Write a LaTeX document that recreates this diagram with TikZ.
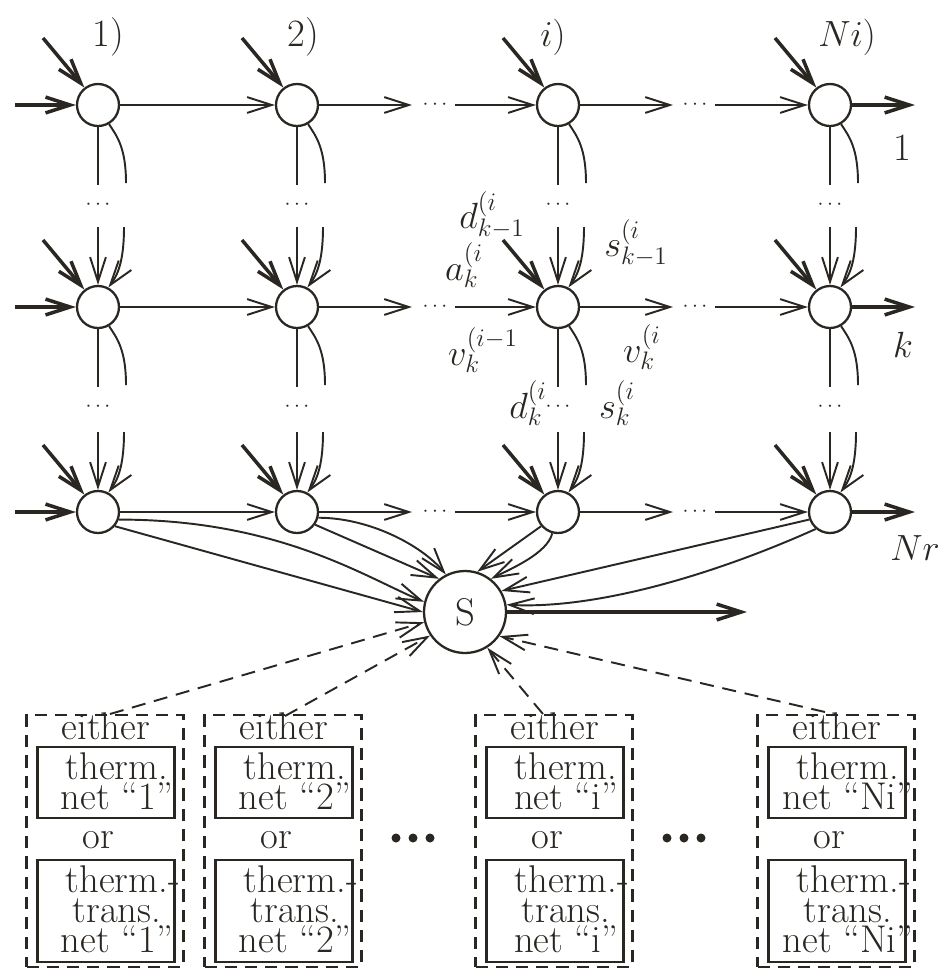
\documentclass[tikz,border=0pt]{standalone}
\usetikzlibrary{arrows.meta}
\definecolor{ink}{RGB}{42,38,34}
\begin{document}
\begin{tikzpicture}[x=0.02cm,y=-0.02cm,
  every node/.style={font=\fontsize{22}{17}\selectfont,text=ink},
  >={Straight Barb[length=14pt,width=9pt]},
  nd/.style={circle,draw=ink,line width=1.3pt,minimum size=0.84cm,inner sep=0pt,fill=white},
  ln/.style={draw=ink,line width=1.1pt},
  thk/.style={draw=ink,line width=2pt},
  dotsl/.style={font=\fontsize{13}{14}\selectfont,inner sep=0pt},
  obox/.style={draw=ink,line width=1.3pt,dash pattern=on 7pt off 4.5pt,minimum width=3.14cm,minimum height=5.04cm,inner sep=0pt},
  ibox/.style={draw=ink,line width=1.2pt,inner sep=0pt,minimum width=2.74cm},
  dln/.style={draw=ink,line width=1.1pt,dash pattern=on 8pt off 5pt},
  txt/.style={inner sep=0pt}]
\useasboundingbox (0,0) rectangle (943,971);

% grid of nodes
\foreach \c/\x in {1/98,2/297,3/558,4/830}{
  \foreach \r/\y in {1/105,2/307,3/512}{
    \node[nd] (n\c\r) at (\x,\y) {};
    \coordinate (g\c\r) at (\x-55,\y-67);
    \draw[thk,->] (g\c\r) -- (n\c\r.128);
  }
  \foreach \r/\y in {1/105,2/307}{
    \coordinate (vb\c\r) at (\x,\y+80);
    \coordinate (cb\c\r) at (\x+28,\y+78);
    \draw[ln] (n\c\r.south) -- (vb\c\r);
    \draw[ln] (n\c\r.-60) .. controls +(8,12) and +(0,-35) .. (cb\c\r);
    \node[dotsl] (vd\c\r) at (\x,\y+100) {$\cdots$};
  }
  \foreach \r/\y in {2/307,3/512}{
    \coordinate (va\c\r) at (\x,\y-80);
    \coordinate (ca\c\r) at (\x+26,\y-80);
    \draw[ln,->] (va\c\r) -- (n\c\r.north);
    \draw[ln,->] (ca\c\r) .. controls +(0,35) and +(9,-12) .. (n\c\r.62);
  }
}

% horizontal connections
\foreach \r/\y in {1/105,2/307,3/512}{
  \coordinate (hi\r) at (15,\y);
  \draw[thk,->] (hi\r) -- (n1\r);
  \draw[ln,->] (n1\r) -- (n2\r);
  \coordinate (ha\r) at (412,\y);
  \draw[ln,->] (n2\r) -- (ha\r);
  \node[dotsl] (hd1\r) at (435,\y) {$\cdots$};
  \coordinate (hb\r) at (455,\y);
  \draw[ln,->] (hb\r) -- (n3\r);
  \coordinate (hc\r) at (673,\y);
  \draw[ln,->] (n3\r) -- (hc\r);
  \node[dotsl] (hd2\r) at (695,\y) {$\cdots$};
  \coordinate (he\r) at (715,\y);
  \draw[ln,->] (he\r) -- (n4\r);
  \coordinate (ho\r) at (915,\y);
  \draw[thk,->] (n4\r) -- (ho\r);
}

% column and row labels
\node[txt] (c1) at (108,37) {1)};
\node[txt] (c2) at (303,37) {2)};
\node[txt] (c3) at (553,37) {$i)$};
\node[txt] (c4) at (847,37) {$Ni)$};
\node[txt] (r1) at (902,148) {1};
\node[txt] (r2) at (903,345) {$k$};
\node[txt] (r3) at (915,548) {$Nr$};

% variable labels
\node[txt] (ld1) at (492,215) {$d^{(i}_{k-1}$};
\node[txt] (la)  at (464,265) {$a^{(i}_{k}$};
\node[txt] (ls1) at (636,243) {$s^{(i}_{k-1}$};
\node[txt] (lv1) at (483,350) {$v^{(i-1}_{k}$};
\node[txt] (lv2) at (642,347) {$v^{(i}_{k}$};
\node[txt] (ld2) at (528,403) {$d^{(i}_{k}$};
\node[txt] (ls2) at (617,403) {$s^{(i}_{k}$};

% summation node
\node[nd,minimum size=1.64cm] (S) at (465,612) {S};
\coordinate (Sout) at (747,612);
\draw[thk,->] (S.east) -- (Sout);

\draw[ln,->] (n13.-20) .. controls +(160,0) and +(-60,-25) .. (S.166);
\draw[ln,->] (n13.-40) -- (S.180);
\draw[ln,->] (n23.-15) .. controls +(50,0) and +(-25,-30) .. (S.117);
\draw[ln,->] (n23.-35) -- (S.128);
\draw[ln,->] (n33.-140) -- (S.73);
\draw[ln,->] (n33.-105) .. controls +(-5,20) and +(20,-10) .. (S.52);
\draw[ln,->] (n43.-160) -- (S.30);
\draw[ln,->] (n43.-130) .. controls +(-100,45) and +(90,5) .. (S.10);

% bottom boxes
\foreach \b/\cx/\lab in {1/105/1,2/283/2,3/554/i,4/836/Ni}{
  \node[obox] (ob\b) at (\cx,841) {};
  \node[ibox,minimum height=1.42cm] (ia\b) at (\cx+1,782.5) {};
  \node[ibox,minimum height=2.04cm] (ib\b) at (\cx+1,911) {};
  \node[txt] (te\b) at (\cx+1,726) {either};
  \node[txt,align=center] (ta\b) at (\cx+12,781) {therm.\\net ``\lab''};
  \node[txt] (to\b) at (\cx-7,840) {or};
  \node[txt,align=center] (tb\b) at (\cx+12,909) {therm.\rlap{-}\\trans.\\net ``\lab''};
}

\coordinate (e1) at (110,714);
\coordinate (e2) at (285,716);
\coordinate (e3) at (543,714);
\coordinate (e4) at (825,712);
\draw[dln,->] (e1) -- (S.194);
\draw[dln,->] (e2) -- (S.214);
\draw[dln,->] (e3) -- (S.302);
\draw[dln,->] (e4) -- (S.325);

% big dots between boxes
\foreach \cx in {413,684}{
  \foreach \dx in {-17,0,17}{
    \fill[ink] (\cx+\dx,838) circle (0.09cm);
  }
}
\end{tikzpicture}
\end{document}
